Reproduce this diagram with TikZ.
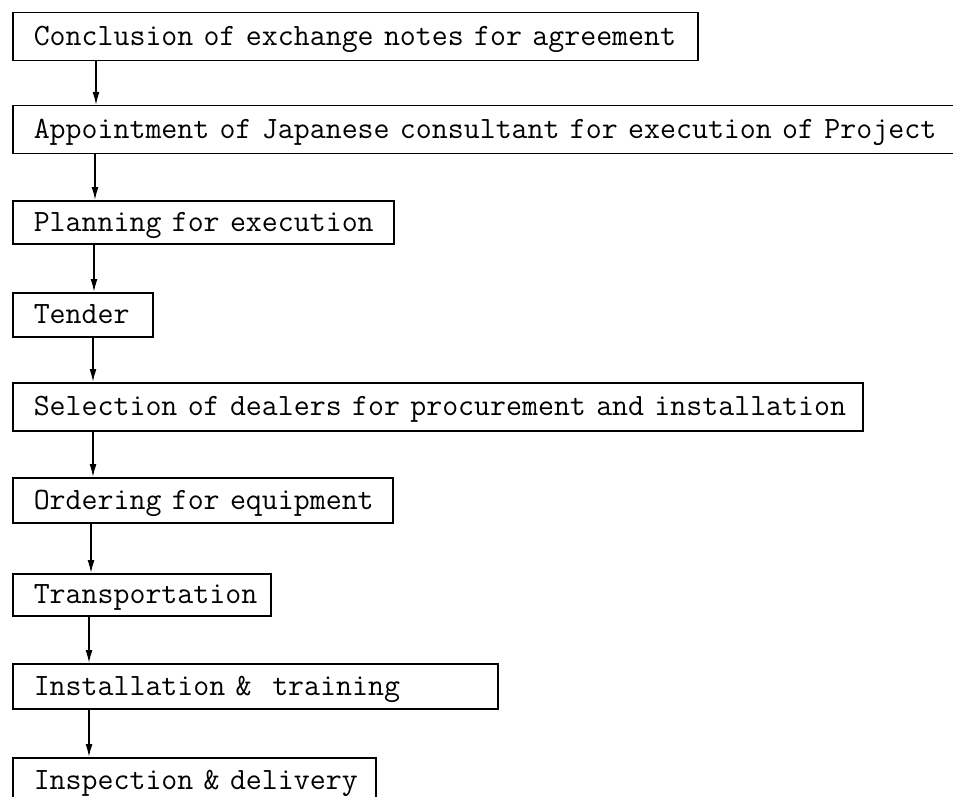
\documentclass[tikz,border=0pt]{standalone}
\usepackage{fontspec}
\usetikzlibrary{arrows.meta}
\begin{document}
\begin{tikzpicture}[x=1pt,y=-1pt,
  stepbox/.style={draw, line width=1.5pt, rectangle, anchor=north west,
    inner xsep=21pt, inner ysep=0pt, align=left,
    font=\ttfamily\fontsize{31}{36}\selectfont,
    text height=17.7pt, text depth=0pt},
  arr/.style={line width=1.5pt, -{Latex[length=13pt,width=7pt]}}]
\useasboundingbox (0,0) rectangle (953,797);
\fill[white] (0,0) rectangle (953,797);

\node[stepbox, text width=643pt, minimum height=48pt] (b1) at (12,12) {\mbox{Conclusion of exchange notes for agreement}};
\node[stepbox, text width=946pt, minimum height=48pt] (b2) at (12,105) {\mbox{Appointment of Japanese consultant for execution of Project}};
\node[stepbox, text width=339pt, minimum height=43pt] (b3) at (12,200) {\mbox{Planning for execution}};
\node[stepbox, text width=98pt, minimum height=44pt] (b4) at (12,292) {\mbox{Tender}};
\node[stepbox, text width=808pt, minimum height=48pt] (b5) at (12,382) {\mbox{Selection of dealers for procurement and installation}};
\node[stepbox, text width=338pt, minimum height=45pt] (b6) at (12,477) {\mbox{Ordering for equipment}};
\node[stepbox, text width=216pt, minimum height=42pt] (b7) at (12,573) {\mbox{Transportation}};
\node[stepbox, text width=443pt, minimum height=45pt] (b8) at (12,663) {\mbox{Installation \&{}\ \ training}};
\node[stepbox, text width=321pt, minimum height=46pt] (b9) at (12,757) {\mbox{Inspection \& delivery}};

\draw[arr] ([xshift=84pt]b1.south west) -- ([xshift=84pt]b2.north west);
\draw[arr] ([xshift=83pt]b2.south west) -- ([xshift=83pt]b3.north west);
\draw[arr] ([xshift=82pt]b3.south west) -- ([xshift=82pt]b4.north west);
\draw[arr] ([xshift=81pt]b4.south west) -- ([xshift=81pt]b5.north west);
\draw[arr] ([xshift=81pt]b5.south west) -- ([xshift=81pt]b6.north west);
\draw[arr] ([xshift=79pt]b6.south west) -- ([xshift=79pt]b7.north west);
\draw[arr] ([xshift=77pt]b7.south west) -- ([xshift=77pt]b8.north west);
\draw[arr] ([xshift=77pt]b8.south west) -- ([xshift=77pt]b9.north west);
\end{tikzpicture}
\end{document}
